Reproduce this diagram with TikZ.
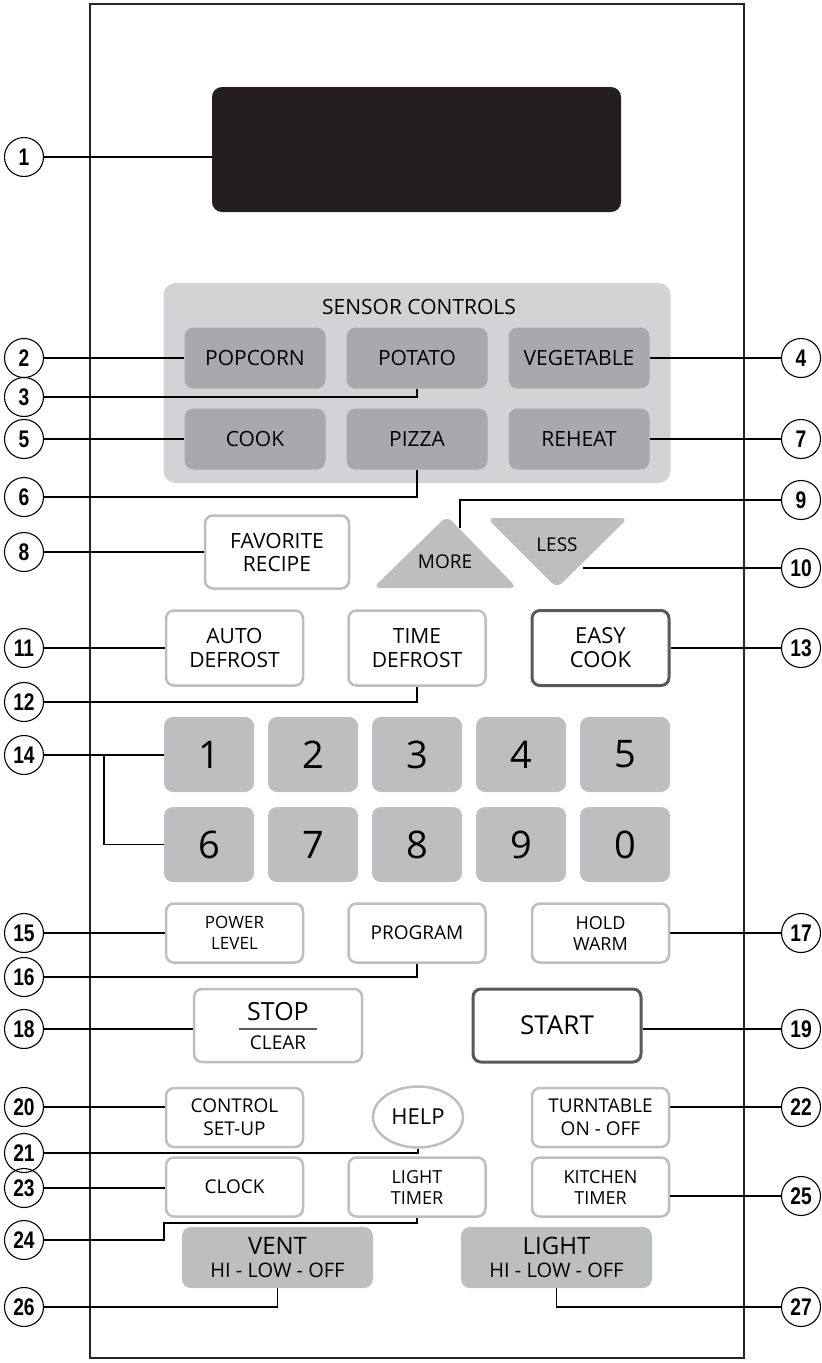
\documentclass[tikz,border=0pt]{standalone}
\usepackage{fontspec}
\setmainfont{Open Sans}
\newfontfamily\calloutfont[FakeStretch=0.8]{Liberation Sans}
\usetikzlibrary{shapes.geometric}

\definecolor{displayblack}{HTML}{231F20}
\definecolor{sensorbg}{HTML}{D1D3D4}
\definecolor{sensorfill}{HTML}{A7A9AC}
\definecolor{padgray}{HTML}{BCBEC0}
\definecolor{rimlight}{HTML}{BCBEC0}
\definecolor{rimdark}{HTML}{58595B}

\tikzset{
  callout/.style={circle, draw, line width=1.1pt, minimum size=39pt, inner sep=0pt,
    font=\calloutfont\bfseries\fontsize{24}{24}\selectfont},
  lead/.style={line width=1.1pt},
  sensorkey/.style={fill=sensorfill, rounded corners=9pt, minimum width=141pt,
    minimum height=61pt, font=\fontsize{21}{24}\selectfont},
  softkey/.style={draw=rimlight, line width=2.5pt, fill=white, rounded corners=8pt,
    align=center, minimum width=137pt, minimum height=59pt, inner sep=0pt,
    font=\fontsize{19}{22}\selectfont},
  boldkey/.style={softkey, draw=rimdark, line width=3pt},
  numkey/.style={fill=padgray, rounded corners=9pt, minimum width=90pt,
    minimum height=75pt, font=\fontsize{38}{38}\selectfont},
  fankey/.style={fill=padgray, rounded corners=9pt, minimum width=191pt,
    minimum height=61pt, align=center, font=\fontsize{20}{23}\selectfont},
}

\begin{document}
\begin{tikzpicture}[x=1pt, y=-1pt]
  \useasboundingbox (0,0) rectangle (822,1363);

  % Marco del panel
  \draw[line width=1.4pt, black!85] (90,4) rectangle (744,1358);

  % Pantalla
  \node[fill=displayblack, rounded corners=10pt, minimum width=409pt,
    minimum height=125pt] (display) at (416.5,149.5) {};

  % Sensores
  \node[fill=sensorbg, rounded corners=12pt, minimum width=507pt,
    minimum height=200pt] (sensorpanel) at (417,383) {};
  \node[font=\fontsize{21}{24}\selectfont] (sensortitle) at (419,307) {SENSOR CONTROLS};
  \node[sensorkey] (popcorn) at (255,358) {POPCORN};
  \node[sensorkey] (potato) at (417,358) {POTATO};
  \node[sensorkey] (vegetable) at (579,358) {VEGETABLE};
  \node[sensorkey] (cook) at (255,439) {COOK};
  \node[sensorkey] (pizza) at (417,439) {PIZZA};
  \node[sensorkey] (reheat) at (579,439) {REHEAT};

  % Favorito, mas y menos
  \node[softkey, minimum width=144pt, minimum height=73pt,
    font=\fontsize{21}{23}\selectfont] (favorite) at (277,552) {FAVORITE\\RECIPE};
  \fill[padgray, rounded corners=7pt] (373,588) -- (447,516) -- (517,588) -- cycle;
  \fill[padgray, rounded corners=7pt] (487,518) -- (628,518) -- (557,588) -- cycle;
  \node[font=\fontsize{19}{22}\selectfont] (more) at (445,562) {MORE};
  \node[font=\fontsize{19}{22}\selectfont] (less) at (557,545) {LESS};
  \coordinate (moretip) at (460,528);
  \coordinate (lessedge) at (583,568);

  % Descongelar
  \node[softkey, minimum height=75pt, font=\fontsize{21}{24}\selectfont]
    (autodef) at (234.5,648) {AUTO\\DEFROST};
  \node[softkey, minimum height=75pt, font=\fontsize{21}{24}\selectfont]
    (timedef) at (417,648) {TIME\\DEFROST};
  \node[boldkey, minimum height=75pt, font=\fontsize{22}{24}\selectfont]
    (easycook) at (600.5,648) {EASY\\COOK};

  % Teclado numerico
  \foreach \d [count=\i] in {1,2,3,4,5}
    \node[numkey] (k\d) at ({209+104*(\i-1)},754.5) {\d};
  \foreach \d [count=\i] in {6,7,8,9,0}
    \node[numkey] (k\d) at ({209+104*(\i-1)},844.5) {\d};

  % Potencia, programa, mantener
  \node[softkey, font=\fontsize{17}{21}\selectfont] (power) at (234.5,933) {POWER\\LEVEL};
  \node[softkey] (program) at (417,933) {PROGRAM};
  \node[softkey, font=\fontsize{18}{21}\selectfont] (hold) at (600.5,933) {HOLD\\WARM};

  % Parar y empezar
  \node[softkey, minimum width=168pt, minimum height=73pt] (stop) at (278,1025.5) {};
  \node[font=\fontsize{25}{25}\selectfont] (stoptxt) at (278,1012) {STOP};
  \node[font=\fontsize{19}{19}\selectfont] (cleartxt) at (278,1043) {CLEAR};
  \draw[line width=2.2pt, rimdark] (239,1029) -- (317,1029);
  \node[boldkey, minimum width=168pt, minimum height=73pt,
    font=\fontsize{26}{26}\selectfont] (start) at (557,1025.5) {START};

  % Ajustes, ayuda, plato
  \node[softkey, font=\fontsize{19}{23}\selectfont] (control) at (234.5,1117.5) {CONTROL\\SET-UP};
  \node[ellipse, draw=rimlight, line width=2.5pt, fill=white, minimum width=90pt,
    minimum height=61pt, inner sep=0pt, font=\fontsize{22}{22}\selectfont]
    (help) at (418,1117) {HELP};
  \node[softkey, font=\fontsize{19}{23}\selectfont] (turntable) at (600.5,1117.5) {TURNTABLE\\ON - OFF};

  % Reloj y temporizadores
  \node[softkey] (clock) at (234.5,1187) {CLOCK};
  \node[softkey, font=\fontsize{18}{21}\selectfont] (ltimer) at (417,1187) {LIGHT\\TIMER};
  \node[softkey, font=\fontsize{18}{21}\selectfont] (ktimer) at (600.5,1187) {KITCHEN\\TIMER};

  % Ventilador y luz
  \node[fankey] (vent) at (277.5,1257.5)
    {{\fontsize{24}{24}\selectfont VENT}\\HI - LOW - OFF};
  \node[fankey] (light) at (556.5,1257.5)
    {{\fontsize{24}{24}\selectfont LIGHT}\\HI - LOW - OFF};

  % Llamadas
  \foreach \n/\y in {1/157, 2/358, 3/397, 5/439, 6/497, 8/552, 11/648, 12/702,
      14/755, 15/933, 16/977, 18/1029, 20/1107, 21/1153, 23/1188, 24/1240, 26/1307}
    \node[callout] (c\n) at (24,\y) {\n};
  \foreach \n/\y in {4/358, 7/439, 9/500, 10/568, 13/648, 17/933, 19/1029,
      22/1107, 25/1196, 27/1307}
    \node[callout] (c\n) at (801,\y) {\n};
  \coordinate (split14) at (104,755);
  \coordinate (bend24) at (164,1223);

  \draw[lead] (c1) -- (c1 -| display.west);
  \draw[lead] (c2) -- (c2 -| popcorn.west);
  \draw[lead] (c3) -| (potato.south);
  \draw[lead] (c4) -- (c4 -| vegetable.east);
  \draw[lead] (c5) -- (c5 -| cook.west);
  \draw[lead] (c6) -| (pizza.south);
  \draw[lead] (c7) -- (c7 -| reheat.east);
  \draw[lead] (c8) -- (c8 -| favorite.west);
  \draw[lead] (c9) -| (moretip);
  \draw[lead] (c10) -- (lessedge);
  \draw[lead] (c11) -- (c11 -| autodef.west);
  \draw[lead] (c12) -| (timedef.south);
  \draw[lead] (c13) -- (c13 -| easycook.east);
  \draw[lead] (c14) -- (c14 -| k1.west);
  \draw[lead] (split14) |- (k6.west);
  \draw[lead] (c15) -- (c15 -| power.west);
  \draw[lead] (c16) -| (program.south);
  \draw[lead] (c17) -- (c17 -| hold.east);
  \draw[lead] (c18) -- (c18 -| stop.west);
  \draw[lead] (c19) -- (c19 -| start.east);
  \draw[lead] (c20) -- (c20 -| control.west);
  \draw[lead] (c21) -| (help.south);
  \draw[lead] (c22) -- (c22 -| turntable.east);
  \draw[lead] (c23) -- (c23 -| clock.west);
  \draw[lead] (c24) -| (bend24) -| (ltimer.south);
  \draw[lead] (c25) -- (c25 -| ktimer.east);
  \draw[lead] (c26) -| (vent.south);
  \draw[lead] (c27) -| (light.south);
\end{tikzpicture}
\end{document}
